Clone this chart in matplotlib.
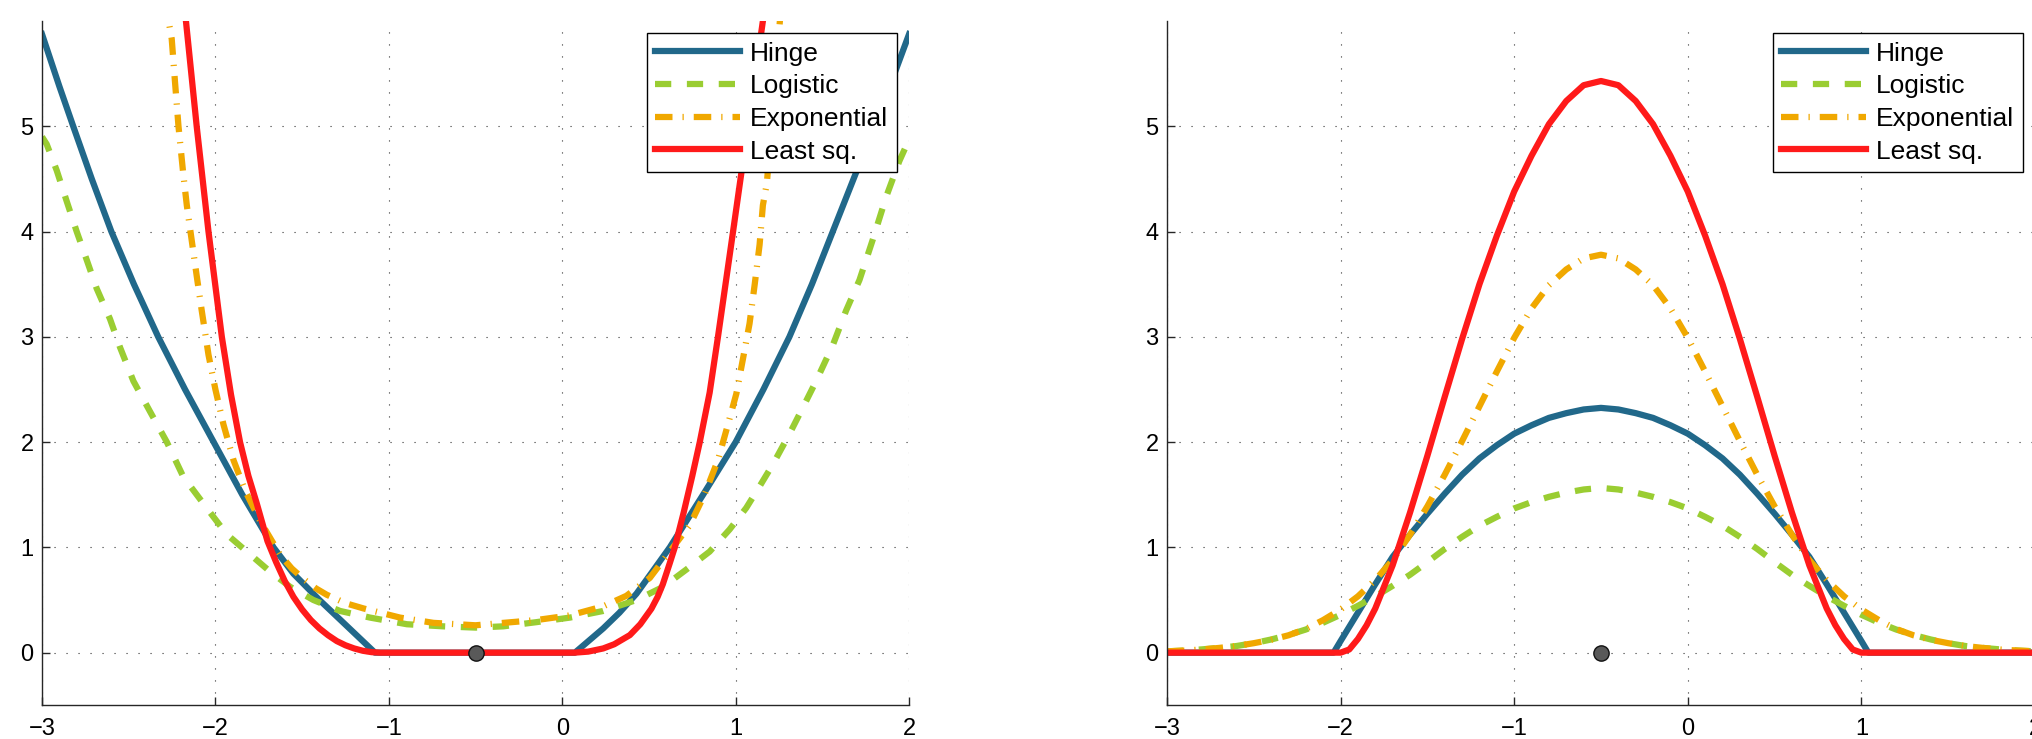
import numpy as np
import matplotlib
matplotlib.use("Agg")
import matplotlib.pyplot as plt

plt.rcParams['font.family'] = ['Liberation Sans', 'DejaVu Sans']

labels = ['Hinge', 'Logistic', 'Exponential', 'Least sq.']
x_ticks = [-3, -2, -1, 0, 1, 2]
y_ticks = [0, 1, 2, 3, 4, 5]
point_x = -0.5
point_y = 0.0

# left panel, values
l_hinge_x = [-3.0, -2.9, -2.82, -2.713, -2.6, -2.47, -2.33, -2.175, -2.01, -1.845, -1.665, -1.55, -1.40,
             -1.24, -1.08, 0.073, 0.236, 0.33, 0.428, 0.52, 0.62, 0.812, 1.0, 1.16, 1.31, 1.44, 1.56,
             1.68, 1.8, 1.9, 2.0]
l_hinge_y = [5.875, 5.38, 5.0, 4.5, 4.0, 3.5, 3.0, 2.5, 2.0, 1.5, 1.0, 0.75, 0.5,
             0.25, 0.0, 0.0, 0.23, 0.38, 0.56, 0.77, 1.0, 1.5, 2.0, 2.5, 3.0, 3.5, 4.0,
             4.5, 5.0, 5.43, 5.875]

l_logit_x = [-3.0, -2.973, -2.915, -2.858, -2.8, -2.742, -2.685, -2.608, -2.55, -2.473, -2.377, -2.28,
             -2.185, -2.03, -1.935, -1.819, -1.685, -1.569, -1.435, -1.281, -1.108, -0.896, -0.685, -0.5,
             -0.34, -0.148, 0.044, 0.236, 0.428, 0.582, 0.716, 0.85, 0.965, 1.061, 1.138, 1.215, 1.311,
             1.388, 1.464, 1.56, 1.637, 1.714, 1.79, 1.868, 1.944, 2.0]
l_logit_y = [4.9, 4.83, 4.58, 4.29, 4.0, 3.73, 3.46, 3.17, 2.9, 2.58, 2.29, 2.0,
             1.67, 1.33, 1.125, 0.96, 0.77, 0.625, 0.5, 0.396, 0.333, 0.27, 0.25, 0.238,
             0.25, 0.29, 0.333, 0.396, 0.5, 0.625, 0.79, 0.96, 1.17, 1.375, 1.58, 1.79, 2.08,
             2.33, 2.58, 2.92, 3.25, 3.54, 3.92, 4.33, 4.67, 4.875]

l_exp_x = [-2.3, -2.27, -2.252, -2.233, -2.213, -2.185, -2.165, -2.137, -2.108, -2.079, -2.04, -2.0,
           -1.954, -1.896, -1.829, -1.742, -1.627, -1.56, -1.492, -1.42, -1.358, -1.25, -1.146, -0.935,
           -0.742, -0.5, -0.34, -0.148, 0.044, 0.236, 0.37, 0.505, 0.62, 0.735, 0.82, 0.898, 0.956,
           1.004, 1.042, 1.08, 1.11, 1.138, 1.157, 1.18, 1.255, 1.27]
l_exp_y = [6.5, 6.0, 5.83, 5.42, 5.0, 4.54, 4.25, 3.92, 3.58, 3.25, 2.83, 2.5,
           2.17, 1.83, 1.54, 1.25, 0.93, 0.80, 0.70, 0.61, 0.55, 0.47, 0.42, 0.333,
           0.283, 0.26, 0.283, 0.31, 0.354, 0.44, 0.54, 0.71, 0.96, 1.21, 1.5, 1.83, 2.17,
           2.46, 2.79, 3.125, 3.5, 3.875, 4.25, 4.46, 6.0, 6.5]

l_lsq_x = [-2.2, -2.17, -2.108, -2.04, -1.963, -1.91, -1.858, -1.81, -1.762, -1.7, -1.65, -1.6, -1.55,
           -1.5, -1.45, -1.4, -1.35, -1.3, -1.25, -1.2, -1.15, -1.1, -1.05, 0.07, 0.15, 0.236, 0.3, 0.39,
           0.45, 0.514, 0.55, 0.58, 0.62, 0.649, 0.7, 0.75, 0.793, 0.85, 0.898, 0.985, 1.071, 1.157, 1.19]
l_lsq_y = [6.45, 6.0, 5.0, 4.0, 3.0, 2.45, 2.0, 1.68, 1.42, 1.06, 0.86, 0.68, 0.53,
           0.41, 0.31, 0.23, 0.165, 0.11, 0.07, 0.04, 0.018, 0.005, 0.0, 0.0, 0.01, 0.04, 0.08, 0.167,
           0.27, 0.417, 0.53, 0.65, 0.85, 1.0, 1.33, 1.68, 2.0, 2.47, 3.0, 4.0, 5.0, 6.0, 6.45]

# right panel
r_hinge_x = [-3.0, -2.04, -2.0, -1.9, -1.8, -1.7, -1.6, -1.5, -1.4, -1.3, -1.2, -1.1, -1.0, -0.9,
             -0.8, -0.7, -0.6, -0.5, -0.4, -0.3, -0.2, -0.1, 0.0, 0.1, 0.2, 0.3, 0.4, 0.5, 0.6,
             0.7, 0.8, 0.9, 1.0, 1.04, 2.0]
r_hinge_y = [0.0, 0.0, 0.11, 0.38, 0.65, 0.91, 1.12, 1.32, 1.51, 1.69, 1.845, 1.97, 2.08, 2.16,
             2.23, 2.275, 2.31, 2.325, 2.31, 2.275, 2.23, 2.16, 2.08, 1.97, 1.845, 1.69, 1.51, 1.32, 1.12,
             0.91, 0.65, 0.38, 0.11, 0.0, 0.0]

r_grid_x = [-3.0, -2.9, -2.8, -2.7, -2.6, -2.5, -2.4, -2.3, -2.2, -2.1, -2.0, -1.9, -1.8, -1.7, -1.6,
            -1.5, -1.4, -1.3, -1.2, -1.1, -1.0, -0.9, -0.8, -0.7, -0.6, -0.5, -0.4, -0.3, -0.2, -0.1,
            0.0, 0.1, 0.2, 0.3, 0.4, 0.5, 0.6, 0.7, 0.8, 0.9, 1.0, 1.1, 1.2, 1.3, 1.4, 1.5, 1.6, 1.7,
            1.8, 1.9, 2.0]
r_logit_y = [0.0125, 0.02, 0.031, 0.045, 0.063, 0.09, 0.125, 0.168, 0.22, 0.285, 0.36, 0.445, 0.535,
             0.635, 0.74, 0.86, 0.985, 1.10, 1.205, 1.29, 1.37, 1.43, 1.48, 1.52, 1.55, 1.565,
             1.55, 1.52, 1.48, 1.43, 1.37, 1.29, 1.205, 1.10, 0.985, 0.86, 0.74, 0.635, 0.535, 0.445,
             0.36, 0.285, 0.22, 0.168, 0.125, 0.09, 0.063, 0.045, 0.031, 0.02, 0.0125]
r_exp_y = [0.0125, 0.02, 0.03, 0.045, 0.063, 0.09, 0.122, 0.165, 0.225, 0.31, 0.41, 0.535, 0.69,
           0.88, 1.12, 1.39, 1.69, 2.01, 2.34, 2.67, 2.99, 3.27, 3.49, 3.64, 3.745, 3.78,
           3.745, 3.64, 3.49, 3.27, 2.99, 2.67, 2.34, 2.01, 1.69, 1.39, 1.12, 0.88, 0.69, 0.535,
           0.41, 0.31, 0.225, 0.165, 0.122, 0.09, 0.063, 0.045, 0.03, 0.02, 0.0125]

r_lsq_x = [-3.0, -2.0, -1.95, -1.9, -1.85, -1.8, -1.7, -1.6, -1.5, -1.4, -1.3, -1.2, -1.1, -1.0,
           -0.9, -0.8, -0.7, -0.6, -0.5, -0.4, -0.3, -0.2, -0.1, 0.0, 0.1, 0.2, 0.3, 0.4, 0.5, 0.6,
           0.7, 0.8, 0.85, 0.9, 0.95, 1.0, 2.0]
r_lsq_y = [0.0, 0.0, 0.03, 0.13, 0.26, 0.42, 0.83, 1.33, 1.87, 2.43, 2.98, 3.50, 3.96, 4.38,
           4.72, 5.02, 5.24, 5.39, 5.43, 5.39, 5.24, 5.02, 4.72, 4.38, 3.96, 3.50, 2.98, 2.43, 1.87, 1.33,
           0.83, 0.42, 0.26, 0.13, 0.03, 0.0, 0.0]

colors = ['#21688A', '#9ACD32', '#F0A800', '#FF1A1A']
styles = ['-', (0, (2.6, 2.5)), (0, (2.8, 1.6, 0.2, 1.6)), '-']
lw = 4.5

panels = [
    [(l_hinge_x, l_hinge_y), (l_logit_x, l_logit_y), (l_exp_x, l_exp_y), (l_lsq_x, l_lsq_y)],
    [(r_hinge_x, r_hinge_y), (r_grid_x, r_logit_y), (r_grid_x, r_exp_y), (r_lsq_x, r_lsq_y)],
]

fig = plt.figure(figsize=(20.33, 7.39), dpi=100)
rects = [[0.02066, 0.0456, 0.4265, 0.926], [0.5740, 0.0456, 0.4270, 0.926]]

for rect, curves in zip(rects, panels):
    ax = fig.add_axes(rect)
    for (xs, ys), c, ls, lab in zip(curves, colors, styles, labels):
        ax.plot(xs, ys, color=c, linestyle=ls, linewidth=lw, label=lab,
                dash_capstyle='butt', solid_joinstyle='round')
    ax.plot([point_x], [point_y], 'o', markersize=11, markerfacecolor='#595959',
            markeredgecolor='#111111', markeredgewidth=1.0, zorder=5)
    ax.set_xlim(-3, 2)
    ax.set_ylim(-0.5, 6.0)
    ax.set_xticks(x_ticks)
    ax.set_yticks(y_ticks)
    ax.grid(True, linestyle=(0, (1, 9.8)), linewidth=0.8, color='#333333')
    ax.set_axisbelow(True)
    for s in ['top', 'right']:
        ax.spines[s].set_visible(False)
    for s in ['left', 'bottom']:
        ax.spines[s].set_color('#262626')
        ax.spines[s].set_linewidth(1.0)
    ax.tick_params(direction='in', length=6, width=1, labelsize=17, colors='#262626')
    ax.tick_params(axis='x', pad=9)
    ax.tick_params(axis='y', pad=6)
    for t in ax.get_xticklabels() + ax.get_yticklabels():
        t.set_color('black')
    leg = ax.legend(loc='upper right', fontsize=19, frameon=True, fancybox=False,
                    edgecolor='black', framealpha=1.0, borderpad=0.33, labelspacing=0.33,
                    handlelength=3.2, handletextpad=0.4, borderaxespad=0.45)
    leg.get_frame().set_linewidth(1.0)

fig.savefig('out.png', dpi=100)
